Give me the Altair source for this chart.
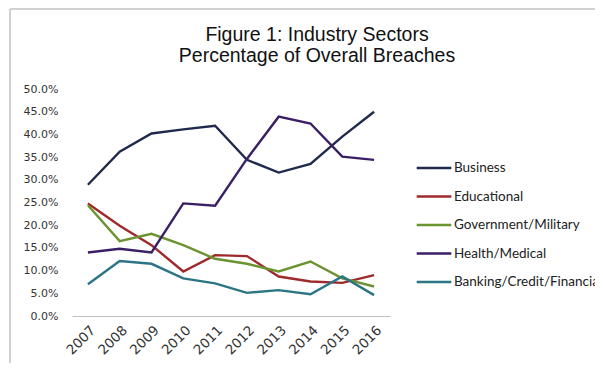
import altair as alt
import pandas as pd

years = ["2007", "2008", "2009", "2010", "2011", "2012", "2013", "2014", "2015", "2016"]
business = [28.9, 36.2, 40.2, 41.1, 41.9, 34.4, 31.6, 33.5, 39.5, 45.0]
educational = [24.8, 19.9, 15.6, 9.8, 13.4, 13.2, 8.7, 7.6, 7.3, 9.0]
government = [24.4, 16.5, 18.1, 15.6, 12.6, 11.5, 9.8, 12.0, 8.3, 6.5]
health = [14.0, 14.8, 14.0, 24.8, 24.3, 34.6, 43.9, 42.4, 35.1, 34.4]
banking = [7.0, 12.1, 11.5, 8.3, 7.2, 5.1, 5.7, 4.8, 8.7, 4.6]

series = ["Business", "Educational", "Government/Military", "Health/Medical", "Banking/Credit/Financial"]
colors = ["#1f2a4d", "#9e2a2b", "#6b9431", "#3a1f66", "#2b7585"]
values = [business, educational, government, health, banking]

rows = []
for name, vals in zip(series, values):
    for y, v in zip(years, vals):
        rows.append({"Year": y, "Sector": name, "Pct": v / 100.0})
df = pd.DataFrame(rows)

lines = alt.Chart(df).mark_line(strokeWidth=2.4).encode(
    x=alt.X("Year:O", sort=years,
            scale=alt.Scale(type="point", padding=0.5),
            axis=alt.Axis(title=None, labelAngle=-45, labelAlign="right", labelBaseline="top",
                          labelFontSize=13.5, labelFont="DejaVu Sans", labelColor="#333333",
                          ticks=False, domainColor="#bfbfbf", labelPadding=7)),
    y=alt.Y("Pct:Q", scale=alt.Scale(domain=[0, 0.5]),
            axis=alt.Axis(title=None, format=".1%", values=[i / 20 for i in range(11)],
                          grid=False, domain=False, ticks=False, labelFontSize=11,
                          labelFont="DejaVu Sans", labelColor="#333333", labelPadding=14)),
    color=alt.Color("Sector:N", sort=series,
                    scale=alt.Scale(domain=series, range=colors),
                    legend=alt.Legend(title=None, orient="none", legendX=343, legendY=60,
                                      symbolType="stroke", symbolSize=1200, symbolStrokeWidth=2.5,
                                      labelFontSize=13.5, labelFont="Lato", labelColor="#222222",
                                      rowPadding=2.5, labelOffset=1)),
    detail="Sector:N",
)

frame_left = alt.Chart(df).mark_rule(color="#d0d0d0", strokeWidth=1).encode(
    x=alt.value(-62), y=alt.value(-80), y2=alt.value(290)
)
frame_top = alt.Chart(df).mark_rule(color="#d0d0d0", strokeWidth=1).encode(
    x=alt.value(-62), x2=alt.value(540), y=alt.value(-80)
)

chart = alt.layer(frame_left, frame_top, lines).properties(
    width=318,
    height=227,
    title=alt.TitleParams(text=["Figure 1:  Industry Sectors", "Percentage of Overall Breaches"],
                          font="Liberation Sans", fontSize=19.5, fontWeight="normal",
                          color="#111111", anchor="middle", frame="group", dx=86, offset=17,
                          dy=75, lineHeight=21),
    autosize=alt.AutoSizeParams(type="none"),
    padding={"left": 64, "top": 81, "right": 205, "bottom": 47},
).configure_view(strokeWidth=0)

chart.save("out.html", embed_options={"renderer": "svg", "actions": False})
